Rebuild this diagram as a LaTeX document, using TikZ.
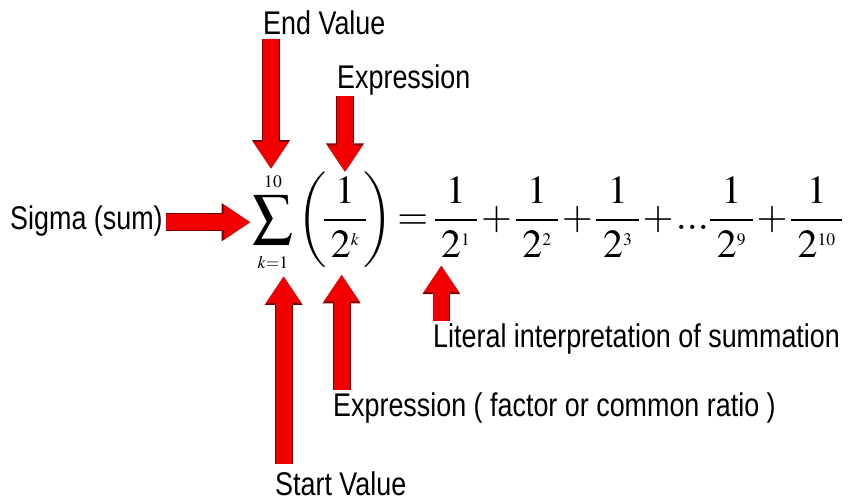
\documentclass[tikz,border=0pt]{standalone}
\usepackage{mathptmx}
\usepackage[no-math]{fontspec}
\setmainfont{Liberation Sans}[FakeStretch=0.82]
\usetikzlibrary{arrows.meta,positioning}
\DeclareMathSizes{34}{34}{15}{12}
\definecolor{CalloutRed}{HTML}{F20000}
\definecolor{CalloutEdge}{HTML}{7A0000}
\newcommand{\padfrac}[2]{\frac{\mkern2mu#1\mkern2mu}{\mkern3mu#2\mkern3mu}}
\newcommand{\tightdots}{{.\mkern0mu.\mkern0mu.}}
\tikzset{
  note/.style={font=\fontsize{28}{32}\selectfont, inner sep=0pt, anchor=base west},
  formula/.style={font=\fontsize{34}{40}\selectfont, inner sep=0pt,
    execute at begin node={\thickmuskip=2mu \medmuskip=1mu}},
  callout/.style={line width=4.8mm, draw=CalloutRed, -{Triangle[width=10mm,length=8mm]},
    preaction={draw=CalloutEdge, line width=5.3mm, -{Triangle[width=10.8mm,length=8.6mm]}}}
}

\begin{document}
\begin{tikzpicture}[x=0.3mm, y=-0.3mm]
  \useasboundingbox (0,0) rectangle (849,501);

  % the sum and its expansion
  \node[formula, anchor=base] (sigma) at (273,230) {$\displaystyle\sum_{k=1}^{10}$};
  \node[formula, base right=1.2mm of sigma] (ratio) {$\displaystyle\left(\mkern-2mu\vphantom{\Big|}\padfrac{1}{2^k}\mkern-2mu\right)$};
  \node[formula, base right=0pt of ratio] (equals) {$\displaystyle{}={}$};
  \node[formula, base right=0pt of equals] (first) {$\displaystyle\padfrac{1}{2^1}$};
  \node[formula, base right=0pt of first] (rest) {$\displaystyle{}+\padfrac{1}{2^2}+\padfrac{1}{2^3}+\tightdots\padfrac{1}{2^9}+\padfrac{1}{2^{10}}$};

  % labels
  \node[note] (endval) at (263,35) {End Value};
  \node[note] (exprtop) at (337,89) {Expression};
  \node[note] (sumlbl) at (10,230) {Sigma (sum)};
  \node[note] (literal) at (433,348) {Literal interpretation of summation};
  \node[note] (factor) at (333,417) {Expression ( factor or common ratio )};
  \node[note] (startval) at (275,495) {Start Value};

  % callouts
  \draw[callout, shorten <=1mm, shorten >=0.8mm] ([xshift=2.4mm]endval.south west) -- ([xshift=2.4mm]endval.south west |- sigma.north);
  \draw[callout] ([xshift=2.4mm]exprtop.south west) -- ([xshift=2.4mm]exprtop.south west |- ratio.north);
  \draw[callout, shorten <=1mm, shorten >=0.6mm] (sumlbl.east |- sigma.west) -- (sigma.west);
  \draw[callout, shorten <=2mm, shorten >=1mm] ([xshift=2.6mm]startval.north west) -- ([xshift=2.6mm]startval.north west |- sigma.south);
  \draw[callout, shorten <=1mm, shorten >=2mm] ([xshift=2.6mm]factor.north west) -- ([xshift=2.6mm]factor.north west |- ratio.south);
  \draw[callout, shorten <=1mm, shorten >=2.4mm] ([xshift=2.5mm]literal.north west) -- ([xshift=2.5mm]literal.north west |- first.south);
\end{tikzpicture}
\end{document}
